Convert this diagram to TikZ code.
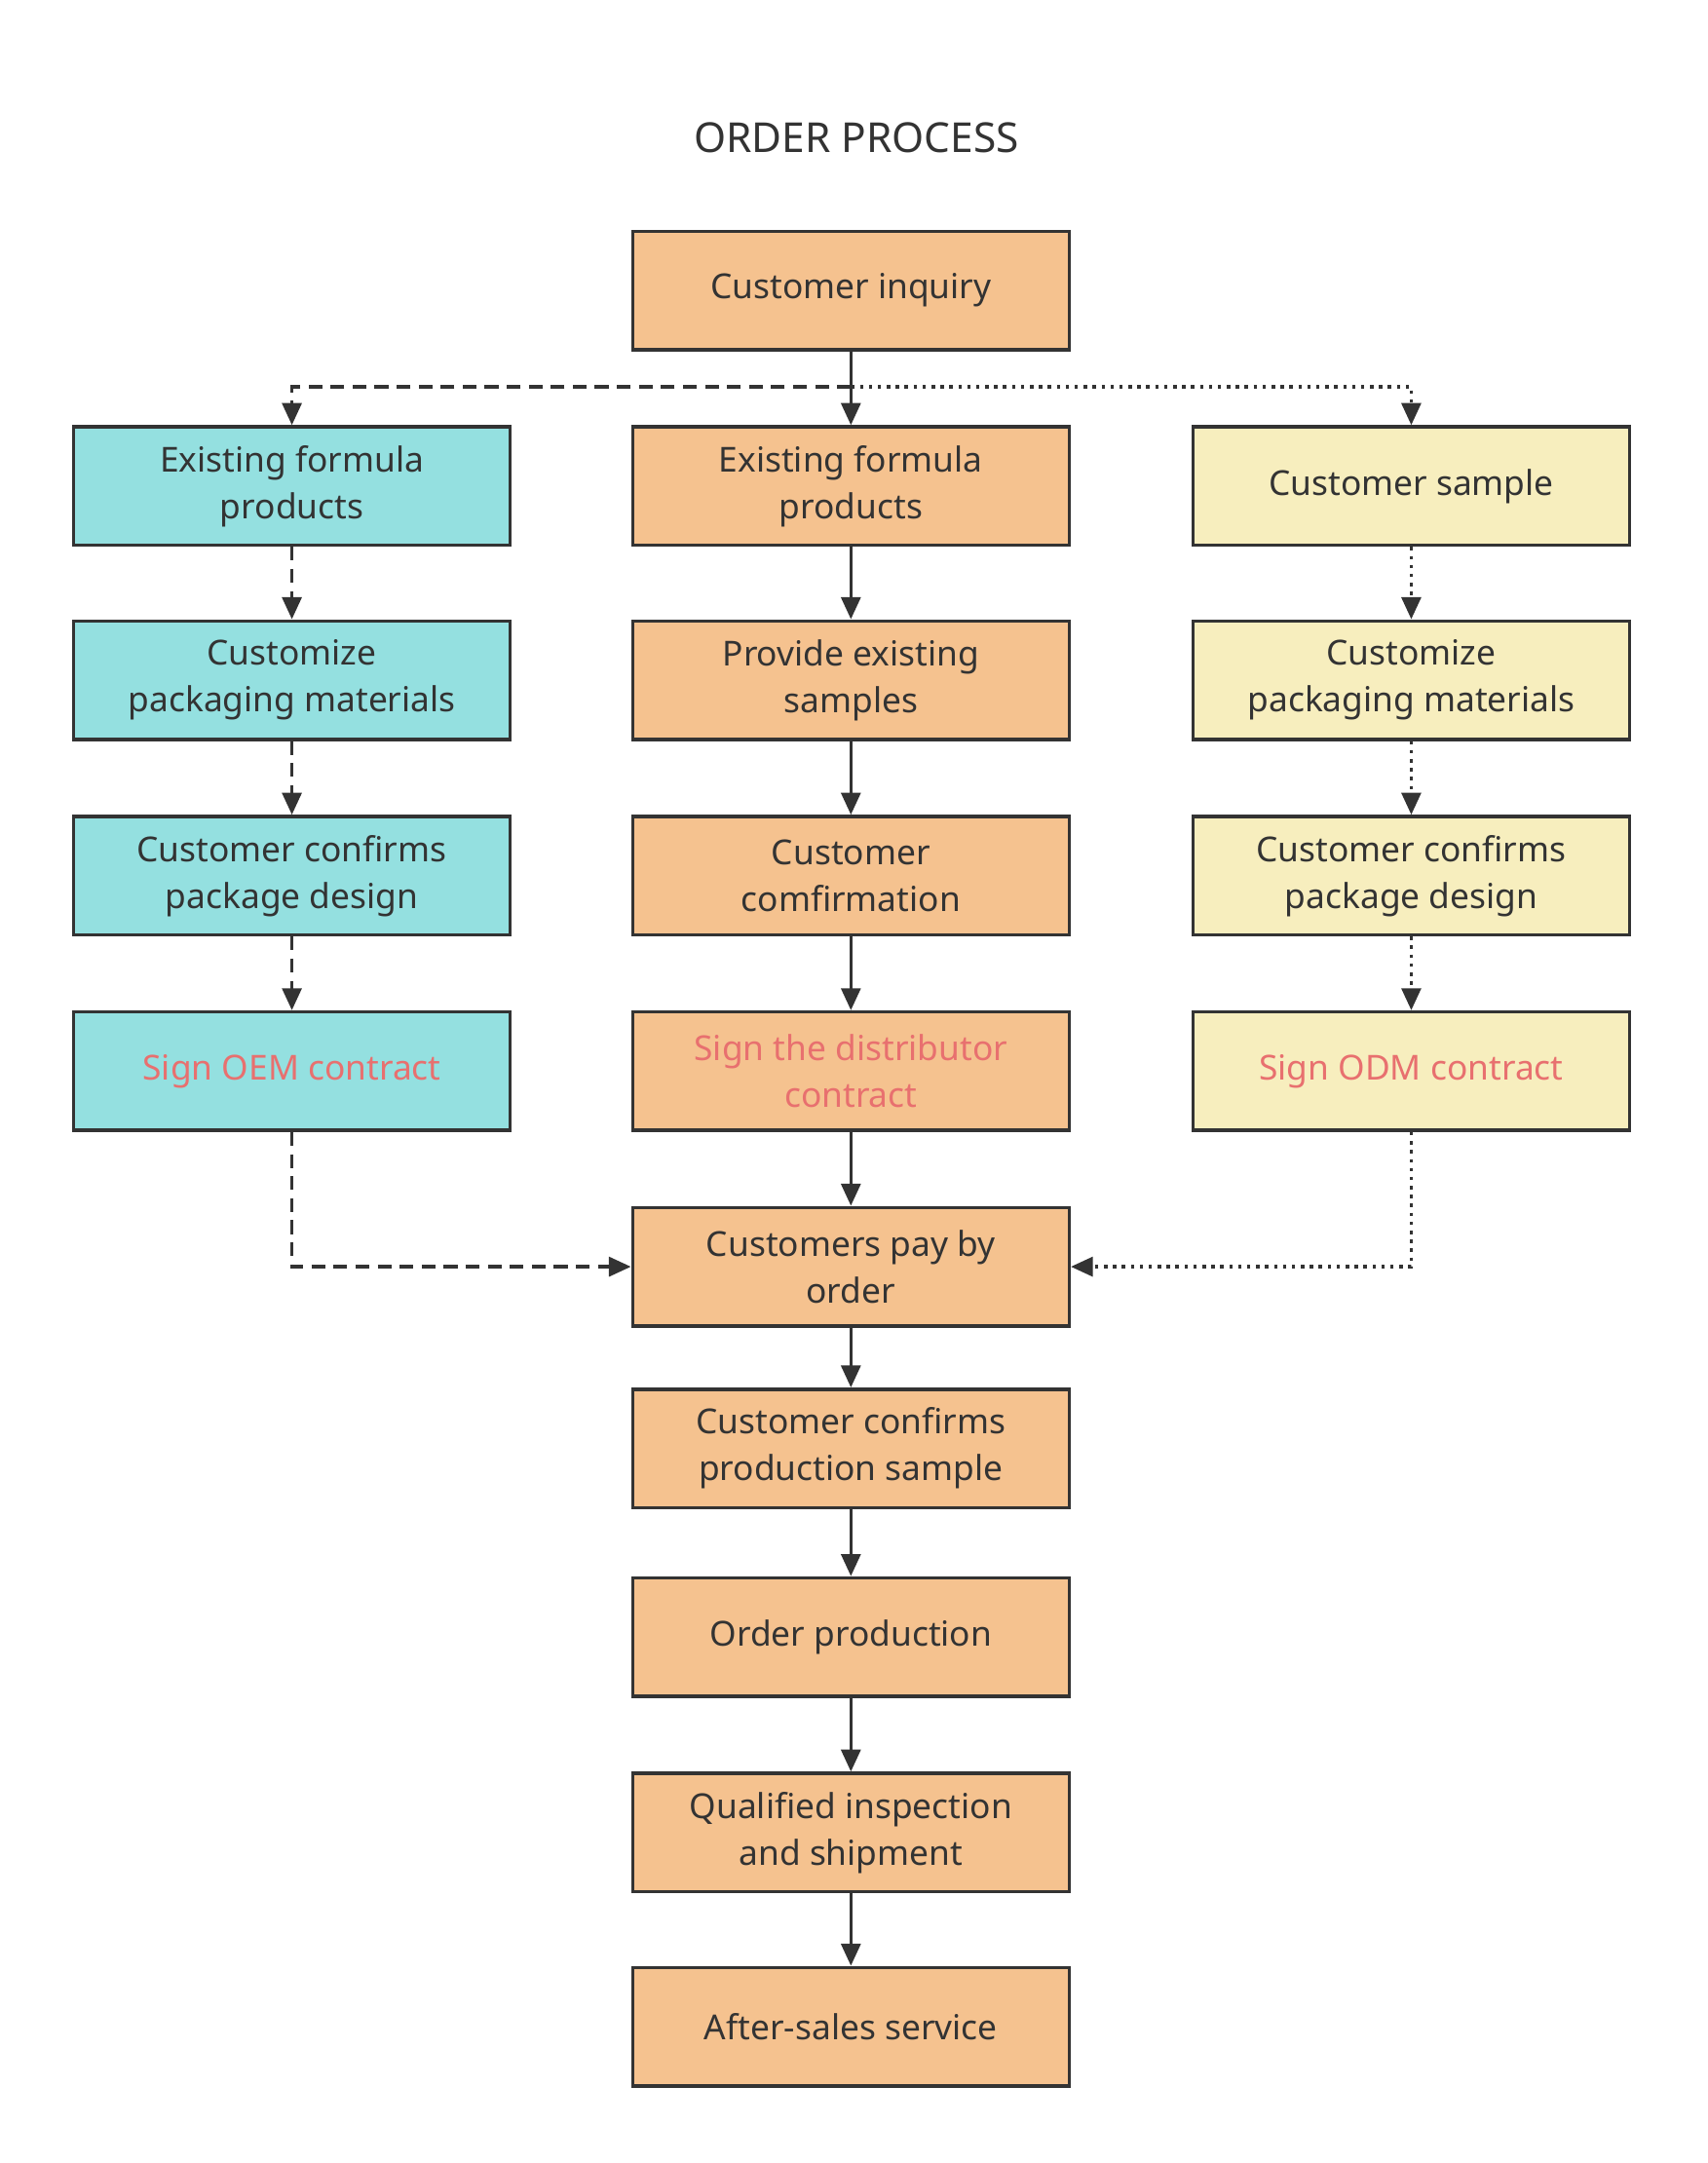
\documentclass[tikz,border=0pt]{standalone}
\usepackage{fontspec}
\setmainfont{Noto Sans}
\usetikzlibrary{arrows.meta}
\definecolor{boxorange}{HTML}{F5C28F}
\definecolor{boxcyan}{HTML}{94E0E0}
\definecolor{boxyellow}{HTML}{F7EEBE}
\definecolor{signred}{HTML}{E8706F}
\definecolor{ink}{HTML}{333333}
\tikzset{
  procbox/.style={draw=ink, line width=2.5pt, minimum width=317pt, minimum height=86pt,
    align=center, text=ink, font=\fontsize{25}{34}\selectfont, inner sep=0pt},
  midbox/.style={procbox, fill=boxorange},
  oembox/.style={procbox, fill=boxcyan},
  odmbox/.style={procbox, fill=boxyellow},
  sign/.style={text=signred, font=\fontsize{25}{34}\selectfont\bfseries},
  flow/.style={draw=ink, line width=2.5pt, -{Triangle[length=16pt,width=14pt]}},
}
\begin{document}
\begin{tikzpicture}[x=1pt,y=-1pt]
    \useasboundingbox (0,0) rectangle (1240,1571);

    \node[text=ink, font=\fontsize{30}{36}\selectfont] (title) at (622,100) {ORDER PROCESS};

    % centre column
    \node[midbox] (inq) at (618,211) {Customer inquiry};
    \node[midbox] (c1) at (618,353) {Existing formula\\products};
    \node[midbox] (c2) at (618,494) {Provide existing\\samples};
    \node[midbox] (c3) at (618,636) {Customer\\comfirmation};
    \node[midbox, sign] (c4) at (618,778) {Sign the distributor\\contract};
    \node[midbox] (pay) at (618,920) {Customers pay by\\order};
    \node[midbox] (c6) at (618,1052) {Customer confirms\\production sample};
    \node[midbox] (c7) at (618,1189) {Order production};
    \node[midbox] (c8) at (618,1331) {Qualified inspection\\and shipment};
    \node[midbox] (c9) at (618,1472) {After-sales service};

    % left column
    \node[oembox] (l1) at (212,353) {Existing formula\\products};
    \node[oembox] (l2) at (212,494) {Customize\\packaging materials};
    \node[oembox] (l3) at (212,636) {Customer confirms\\package design};
    \node[oembox, sign] (l4) at (212,778) {Sign OEM contract};

    % right column
    \node[odmbox] (r1) at (1025,353) {Customer sample};
    \node[odmbox] (r2) at (1025,494) {Customize\\packaging materials};
    \node[odmbox] (r3) at (1025,636) {Customer confirms\\package design};
    \node[odmbox, sign] (r4) at (1025,778) {Sign ODM contract};

    \coordinate (split) at (618,281);

    \draw[flow] (inq) -- (c1);
    \foreach \a/\b in {c1/c2,c2/c3,c3/c4,c4/pay,pay/c6,c6/c7,c7/c8,c8/c9}
        \draw[flow] (\a) -- (\b);

    \begin{scope}[dash pattern=on 10pt off 6pt]
        \draw[flow] (split) -| (l1);
        \foreach \a/\b in {l1/l2,l2/l3,l3/l4}
            \draw[flow] (\a) -- (\b);
        \draw[flow] (l4) |- (pay);
    \end{scope}

    \begin{scope}[dash pattern=on 2.5pt off 4pt]
        \draw[flow] (split) -| (r1);
        \foreach \a/\b in {r1/r2,r2/r3,r3/r4}
            \draw[flow] (\a) -- (\b);
        \draw[flow] (r4) |- (pay);
    \end{scope}
\end{tikzpicture}
\end{document}
